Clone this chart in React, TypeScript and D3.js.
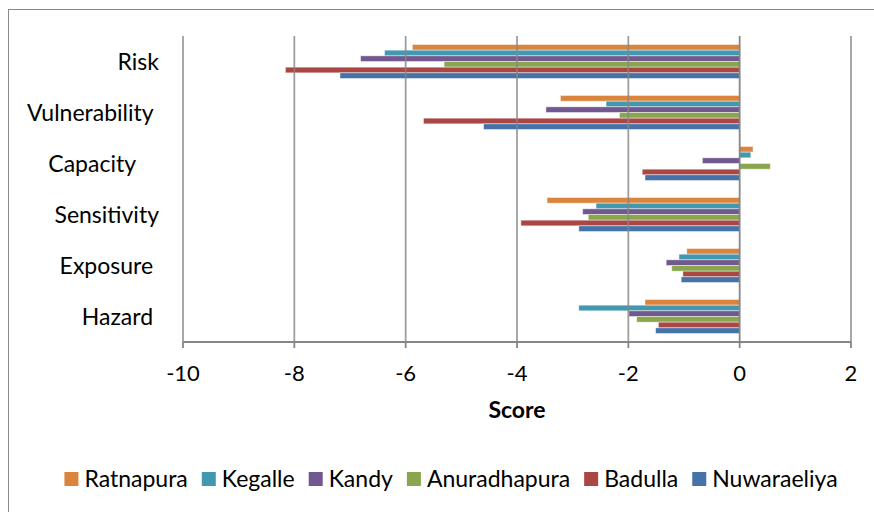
import React, { useEffect, useRef } from "react";
import * as d3 from "d3";

const categories = ["Risk", "Vulnerability ", "Capacity    ", "Sensitivity", "Exposure ", "Hazard "];
const seriesNames = ["Ratnapura", "Kegalle", "Kandy", "Anuradhapura", "Badulla", "Nuwaraeliya"];
const seriesColors = ["#DB843D", "#4198AF", "#71588F", "#89A54E", "#AA4643", "#4572A7"];
// values per series, in category order above
const ratnapura = [-5.88, -3.22, 0.24, -3.46, -0.95, -1.70];
const kegalle = [-6.38, -2.40, 0.20, -2.58, -1.09, -2.89];
const kandy = [-6.81, -3.48, -0.67, -2.82, -1.32, -1.99];
const anuradhapura = [-5.31, -2.16, 0.55, -2.72, -1.22, -1.85];
const badulla = [-8.16, -5.68, -1.75, -3.93, -1.02, -1.46];
const nuwaraeliya = [-7.18, -4.60, -1.70, -2.89, -1.05, -1.51];
const seriesValues = [ratnapura, kegalle, kandy, anuradhapura, badulla, nuwaraeliya];
const xTicks = [-10, -8, -6, -4, -2, 0, 2];
const xTitle = "Score";

const W = 874;
const H = 512;
const FONT = "Lato, 'Open Sans', sans-serif";

export default function App() {
  const ref = useRef<SVGSVGElement | null>(null);

  useEffect(() => {
    const svg = d3.select(ref.current);
    svg.selectAll("*").remove();

    const left = 183, right = 851, top = 36, bottom = 342;
    const x = d3.scaleLinear().domain([-10, 2]).range([left, right]);
    const y = d3.scaleBand<string>().domain(categories).range([top, bottom]).paddingInner(1 / 3).paddingOuter(1 / 6);
    const ys = d3.scaleBand<string>().domain(seriesNames).range([0, y.bandwidth()]);

    svg.append("rect").attr("x", 0).attr("y", 0).attr("width", W).attr("height", H).attr("fill", "#fff");
    svg.append("rect")
      .attr("x", 8.5).attr("y", 9.5).attr("width", 900).attr("height", 560)
      .attr("fill", "none").attr("stroke", "#8a8a8a").attr("stroke-width", 1);

    // bars
    const g = svg.append("g");
    seriesNames.forEach((name, si) => {
      g.selectAll(null)
        .data(seriesValues[si])
        .enter()
        .append("rect")
        .attr("x", (d) => x(Math.min(0, d)))
        .attr("width", (d) => Math.abs(x(d) - x(0)))
        .attr("y", (_d, i) => (y(categories[i]) as number) + (ys(name) as number))
        .attr("height", ys.bandwidth())
        .attr("fill", seriesColors[si])
        .attr("stroke", "rgba(255,255,255,0.55)")
        .attr("stroke-width", 0.8);
    });

    // gridlines (drawn over bars, semi-transparent like reference)
    svg.append("g").selectAll("line").data(xTicks).enter().append("line")
      .attr("x1", (d) => x(d)).attr("x2", (d) => x(d))
      .attr("y1", top).attr("y2", bottom)
      .attr("stroke", "#868686").attr("stroke-width", 1.8)
      .attr("stroke-opacity", (d) => (d === 0 ? 1 : 0.8));

    // x axis
    const ax = svg.append("g");
    ax.append("line").attr("x1", left).attr("x2", right).attr("y1", bottom).attr("y2", bottom)
      .attr("stroke", "#868686").attr("stroke-width", 1.8);
    ax.selectAll("line.tick").data(xTicks).enter().append("line")
      .attr("class", "tick")
      .attr("x1", (d) => x(d)).attr("x2", (d) => x(d))
      .attr("y1", bottom).attr("y2", bottom + 6)
      .attr("stroke", "#868686").attr("stroke-width", 1.8);
    ax.selectAll("text").data(xTicks).enter().append("text")
      .attr("x", (d) => x(d)).attr("y", 381)
      .attr("text-anchor", "middle")
      .attr("font-family", FONT).attr("font-size", 22).attr("fill", "#000")
      .text((d) => String(d));

    svg.append("text")
      .attr("x", (left + right) / 2).attr("y", 418)
      .attr("text-anchor", "middle")
      .attr("font-family", FONT).attr("font-size", 23).attr("font-weight", "bold").attr("fill", "#000")
      .text(xTitle);

    // category labels
    svg.append("g").selectAll("text").data(categories).enter().append("text")
      .attr("x", 159)
      .attr("y", (d) => (y(d) as number) + y.bandwidth() / 2 + 8)
      .attr("text-anchor", "end")
      .attr("font-family", FONT).attr("font-size", 23).attr("fill", "#000")
      .style("white-space", "pre")
      .text((d) => d);

    // legend
    const lg = svg.append("g");
    const items = seriesNames.map((name, i) => {
      const gi = lg.append("g");
      gi.append("rect").attr("x", 0).attr("y", 472).attr("width", 14).attr("height", 14).attr("fill", seriesColors[i]);
      const t = gi.append("text").attr("x", 20).attr("y", 486.5)
        .attr("font-family", FONT).attr("font-size", 23).attr("fill", "#000").text(name);
      const w = (t.node() as SVGTextElement).getComputedTextLength();
      return { gi, w: 20 + w };
    });
    const gap = 14;
    const total = d3.sum(items, (d) => d.w) + gap * (items.length - 1);
    let cx = 451 - total / 2;
    items.forEach((it) => {
      it.gi.attr("transform", `translate(${cx},0)`);
      cx += it.w + gap;
    });
  }, []);

  return (
    <svg
      ref={ref}
      width={W}
      height={H}
      style={{ display: "block", position: "absolute", left: 0, top: 0 }}
    />
  );
}
